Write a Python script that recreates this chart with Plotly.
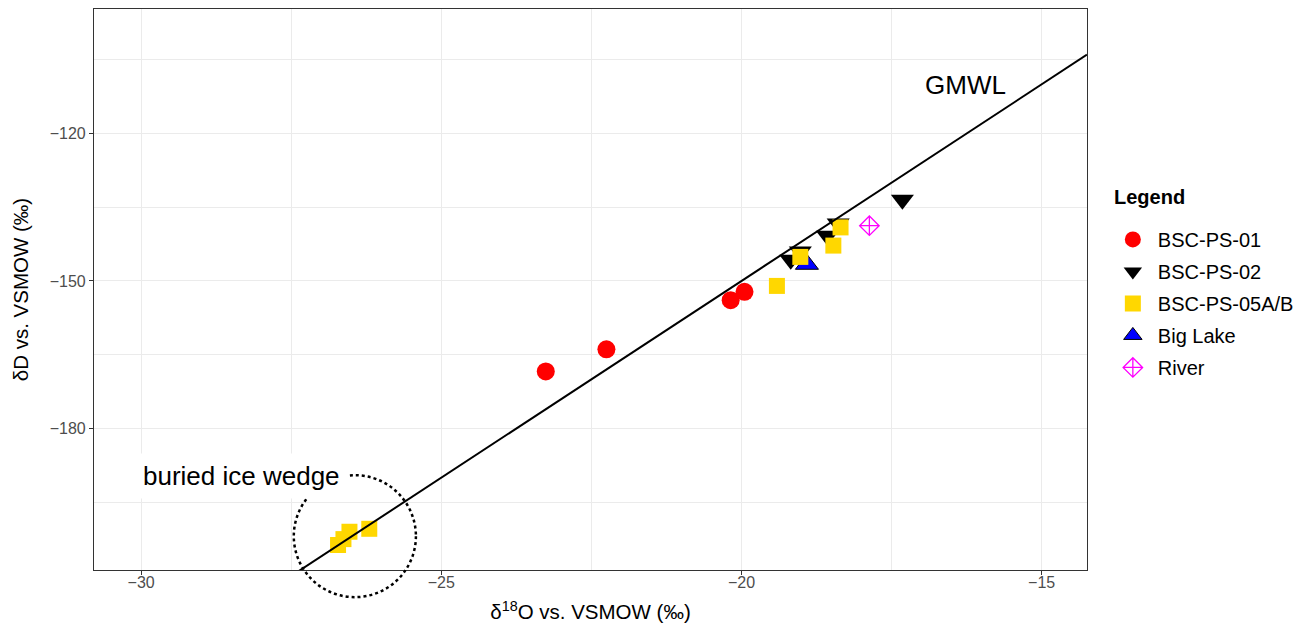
import plotly.graph_objects as go

# ---- data ----
ps01_x = [-23.26, -22.25, -20.18, -19.95]
ps01_y = [-168.4, -163.9, -153.9, -152.2]

ps02_x = [-17.32, -18.39, -18.57, -19.02, -19.18]
ps02_y = [-133.5, -138.3, -140.8, -144.0, -145.7]

ps05_x = [-18.35, -18.47, -19.02, -19.41, -26.72, -26.63, -26.53, -26.20]
ps05_y = [-139.1, -142.8, -145.1, -151.0, -203.7, -202.5, -201.0, -200.4]

lake_x = [-18.91]
lake_y = [-146.6]

river_x = [-17.87]
river_y = [-138.75]

# GMWL: dD = 8 * d18O + 10
gmwl_slope = 8.0
gmwl_intercept = 10.0

x_range = [-30.785, -14.245]
y_range = [-208.78, -94.68]

x_ticks = [-30, -25, -20, -15]
x_ticktext = ["\u221230", "\u221225", "\u221220", "\u221215"]
y_ticks = [-180, -150, -120]
y_ticktext = ["\u2212180", "\u2212150", "\u2212120"]

# ice-wedge circle (data units)
circ_cx, circ_cy = -26.44, -201.9
circ_rx, circ_ry = 1.017, 12.4

FONT = "Liberation Sans, Arial, Helvetica, sans-serif"

fig = go.Figure()

def add_points(name, xs, ys, symbol, color, size, rank, line_color=None, line_width=0):
    fig.add_trace(go.Scatter(
        x=xs, y=ys, mode="markers", name=name, legendrank=rank,
        legendgroup=name,
        marker=dict(symbol=symbol, color=color, size=size,
                    line=dict(color=line_color or color, width=line_width)),
    ))

add_points("Big Lake", lake_x, lake_y, "triangle-up", "#0000FF", 20, 4, "#000000", 1)
add_points("BSC-PS-01", ps01_x, ps01_y, "circle", "#FF0000", 18, 1)
add_points("BSC-PS-02", ps02_x, ps02_y, "triangle-down", "#000000", 20, 2)
add_points("BSC-PS-05A/B", ps05_x, ps05_y, "square", "#FFD700", 16, 3)
add_points("River", river_x, river_y, "diamond-cross-open", "#FF00FF", 15, 5, "#FF00FF", 1.3)

gx = list(x_range)
gy = [gmwl_slope * v + gmwl_intercept for v in gx]
fig.add_trace(go.Scatter(x=gx, y=gy, mode="lines", line=dict(color="black", width=2),
                         showlegend=False, hoverinfo="skip"))

# circle in paper coords (so it may extend beyond the panel like the original)
def px(v):
    return (v - x_range[0]) / (x_range[1] - x_range[0])

def py(v):
    return (v - y_range[0]) / (y_range[1] - y_range[0])

fig.add_shape(type="circle", xref="paper", yref="paper",
              x0=px(circ_cx - circ_rx), x1=px(circ_cx + circ_rx),
              y0=py(circ_cy - circ_ry), y1=py(circ_cy + circ_ry),
              line=dict(color="black", width=2.5, dash="dot"), layer="above")

fig.add_annotation(x=-28.33, y=-189.7, xref="x", yref="y", text="buried ice wedge",
                   showarrow=False, font=dict(family=FONT, size=26, color="black"),
                   bgcolor="white", borderpad=7)
fig.add_annotation(x=-16.27, y=-110.2, xref="x", yref="y", text="GMWL",
                   showarrow=False, font=dict(family=FONT, size=26, color="black"))

fig.add_annotation(x=1.025, y=0.665, xref="paper", yref="paper", text="<b>Legend</b>",
                   showarrow=False, xanchor="left", yanchor="middle",
                   font=dict(family=FONT, size=20, color="black"))

axis_common = dict(
    showline=True, linecolor="#333333", linewidth=1.2, mirror=True,
    ticks="outside", ticklen=4, tickcolor="#333333", tickwidth=1.1,
    tickfont=dict(family=FONT, size=16, color="#4D4D4D"),
    showgrid=True, gridcolor="#EBEBEB", gridwidth=1.3, zeroline=False,
)

fig.update_xaxes(range=x_range, tickvals=x_ticks, ticktext=x_ticktext,
                 ticklabelstandoff=-6,
                 minor=dict(dtick=2.5, tick0=-30, showgrid=True, gridcolor="#EBEBEB", gridwidth=0.7, ticks=""),
                 title=dict(text="\u03b4<sup>18</sup>O vs. VSMOW (\u2030)", standoff=14,
                            font=dict(family=FONT, size=20.5, color="black")),
                 **axis_common)
fig.update_yaxes(range=y_range, tickvals=y_ticks, ticktext=y_ticktext,
                 minor=dict(dtick=15, tick0=-120, showgrid=True, gridcolor="#EBEBEB", gridwidth=0.7, ticks=""),
                 title=dict(text="\u03b4D vs. VSMOW (\u2030)", standoff=15,
                            font=dict(family=FONT, size=20.5, color="black")),
                 **axis_common)

# page has an 8px body margin, so the figure is 8px smaller and margins shifted
fig.update_layout(
    width=1308, height=619,
    margin=dict(l=86, r=229, t=1, b=57),
    paper_bgcolor="white", plot_bgcolor="white",
    font=dict(family=FONT, color="black"),
    legend=dict(x=1.021, xanchor="left", y=0.624, yanchor="top",
                font=dict(family=FONT, size=20, color="black"),
                tracegroupgap=3, itemwidth=40, bgcolor="rgba(0,0,0,0)"),
)

fig.write_html("out.html")
